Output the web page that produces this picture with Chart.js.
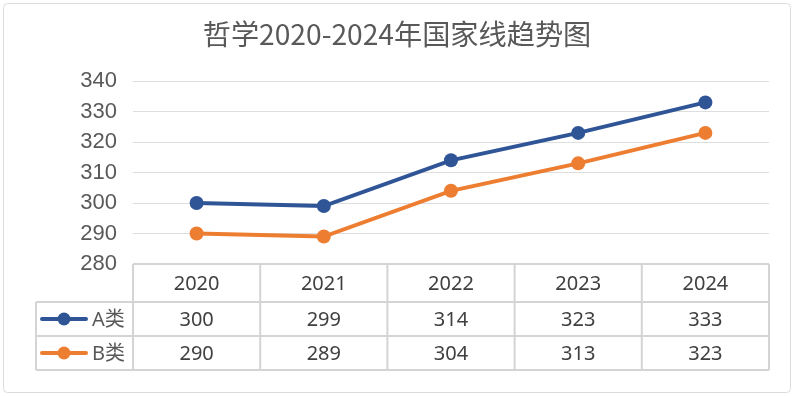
<!DOCTYPE html>
<html>
<head>
<meta charset="utf-8">
<script src="https://cdn.jsdelivr.net/npm/chart.js@4"></script>
<style>
  html, body { margin: 0; padding: 0; background: #ffffff; }
  canvas { display: block; }
</style>
</head>
<body>
<canvas id="c" width="794" height="396"></canvas>
<script>
const chartTitle = '哲学2020-2024年国家线趋势图';
const categories = ['2020', '2021', '2022', '2023', '2024'];
const seriesNames = ['A类', 'B类'];
const seriesA = [300, 299, 314, 323, 333];
const seriesB = [290, 289, 304, 313, 323];
const yMin = 280, yMax = 340, yStep = 10;

const colors = ['#2F5597', '#ED7D31'];
const seriesValues = [seriesA, seriesB];

const framePlugin = {
  id: 'frame',
  beforeDraw(chart) {
    const ctx = chart.ctx;
    ctx.save();
    ctx.fillStyle = '#ffffff';
    ctx.fillRect(0, 0, chart.width, chart.height);
    ctx.strokeStyle = '#dcdcdc';
    ctx.lineWidth = 1;
    ctx.beginPath();
    ctx.roundRect(3.5, 3.5, chart.width - 7, chart.height - 7, 4);
    ctx.stroke();
    ctx.restore();
  }
};

const tablePlugin = {
  id: 'dataTable',
  afterDraw(chart) {
    const { ctx, chartArea } = chart;
    const n = categories.length;
    const colW = (chartArea.right - chartArea.left) / n;
    const top = chartArea.bottom;
    const headerH = 38, rowH = 34;
    const legendLeft = 36;
    const left = chartArea.left, right = chartArea.right;
    const rowsTop = top + headerH;
    const bottom = rowsTop + rowH * seriesNames.length;

    ctx.save();
    ctx.strokeStyle = '#d4d4d4';
    ctx.lineWidth = 2;
    ctx.beginPath();
    ctx.moveTo(left, top); ctx.lineTo(right, top);
    for (let r = 0; r <= seriesNames.length; r++) {
      const y = rowsTop + r * rowH;
      ctx.moveTo(legendLeft, y); ctx.lineTo(right, y);
    }
    for (let i = 0; i <= n; i++) {
      const x = left + i * colW;
      ctx.moveTo(x, top); ctx.lineTo(x, bottom);
    }
    ctx.moveTo(legendLeft, rowsTop); ctx.lineTo(legendLeft, bottom);
    ctx.stroke();

    ctx.fillStyle = '#404040';
    ctx.textAlign = 'center';
    ctx.textBaseline = 'middle';
    ctx.font = '20px "Noto Sans", "Noto Sans CJK SC", sans-serif';
    const xs = chart.scales.x;
    categories.forEach((c, i) => {
      const cx = xs.getPixelForValue(i);
      ctx.fillText(c, cx, top + headerH / 2 + 1);
      seriesValues.forEach((vals, r) => {
        ctx.fillText(String(vals[i]), cx, rowsTop + r * rowH + rowH / 2 + 1);
      });
    });

    seriesNames.forEach((name, r) => {
      const cy = rowsTop + r * rowH + rowH / 2;
      ctx.strokeStyle = colors[r];
      ctx.lineWidth = 4;
      ctx.lineCap = 'round';
      ctx.beginPath();
      ctx.moveTo(42, cy); ctx.lineTo(86, cy);
      ctx.stroke();
      ctx.fillStyle = colors[r];
      ctx.beginPath();
      ctx.arc(64, cy, 6.5, 0, Math.PI * 2);
      ctx.fill();
      ctx.fillStyle = '#595959';
      ctx.textAlign = 'left';
      ctx.font = '20px "Noto Sans", "Noto Sans CJK SC", sans-serif';
      ctx.fillText(name, 92, cy + 1);
    });
    ctx.restore();
  }
};

new Chart(document.getElementById('c'), {
  type: 'line',
  data: {
    labels: categories,
    datasets: seriesNames.map((name, i) => ({
      label: name,
      data: seriesValues[i],
      borderColor: colors[i],
      backgroundColor: colors[i],
      borderWidth: 4,
      pointRadius: 7,
      pointBorderWidth: 0,
      pointBackgroundColor: colors[i],
      tension: 0,
      fill: false
    }))
  },
  options: {
    responsive: false,
    devicePixelRatio: 1,
    animation: false,
    layout: { padding: { left: 25, right: 25, top: 0, bottom: 132 } },
    plugins: {
      legend: { display: false },
      tooltip: { enabled: false },
      title: {
        display: true,
        text: chartTitle,
        color: '#595959',
        font: { family: '"Noto Sans CJK SC", sans-serif', size: 28.2, weight: 'normal' },
        padding: { top: 17.5, bottom: 29.7 }
      }
    },
    scales: {
      x: {
        type: 'category',
        offset: true,
        display: false
      },
      y: {
        min: yMin,
        max: yMax,
        ticks: {
          stepSize: yStep,
          color: '#595959',
          font: { family: '"Liberation Sans", Arial, sans-serif', size: 22 },
          padding: 16
        },
        grid: { color: '#dedede', lineWidth: 1, drawTicks: false },
        border: { display: false },
        afterFit(scale) { scale.width = 108; }
      }
    }
  },
  plugins: [framePlugin, tablePlugin]
});
</script>
</body>
</html>
